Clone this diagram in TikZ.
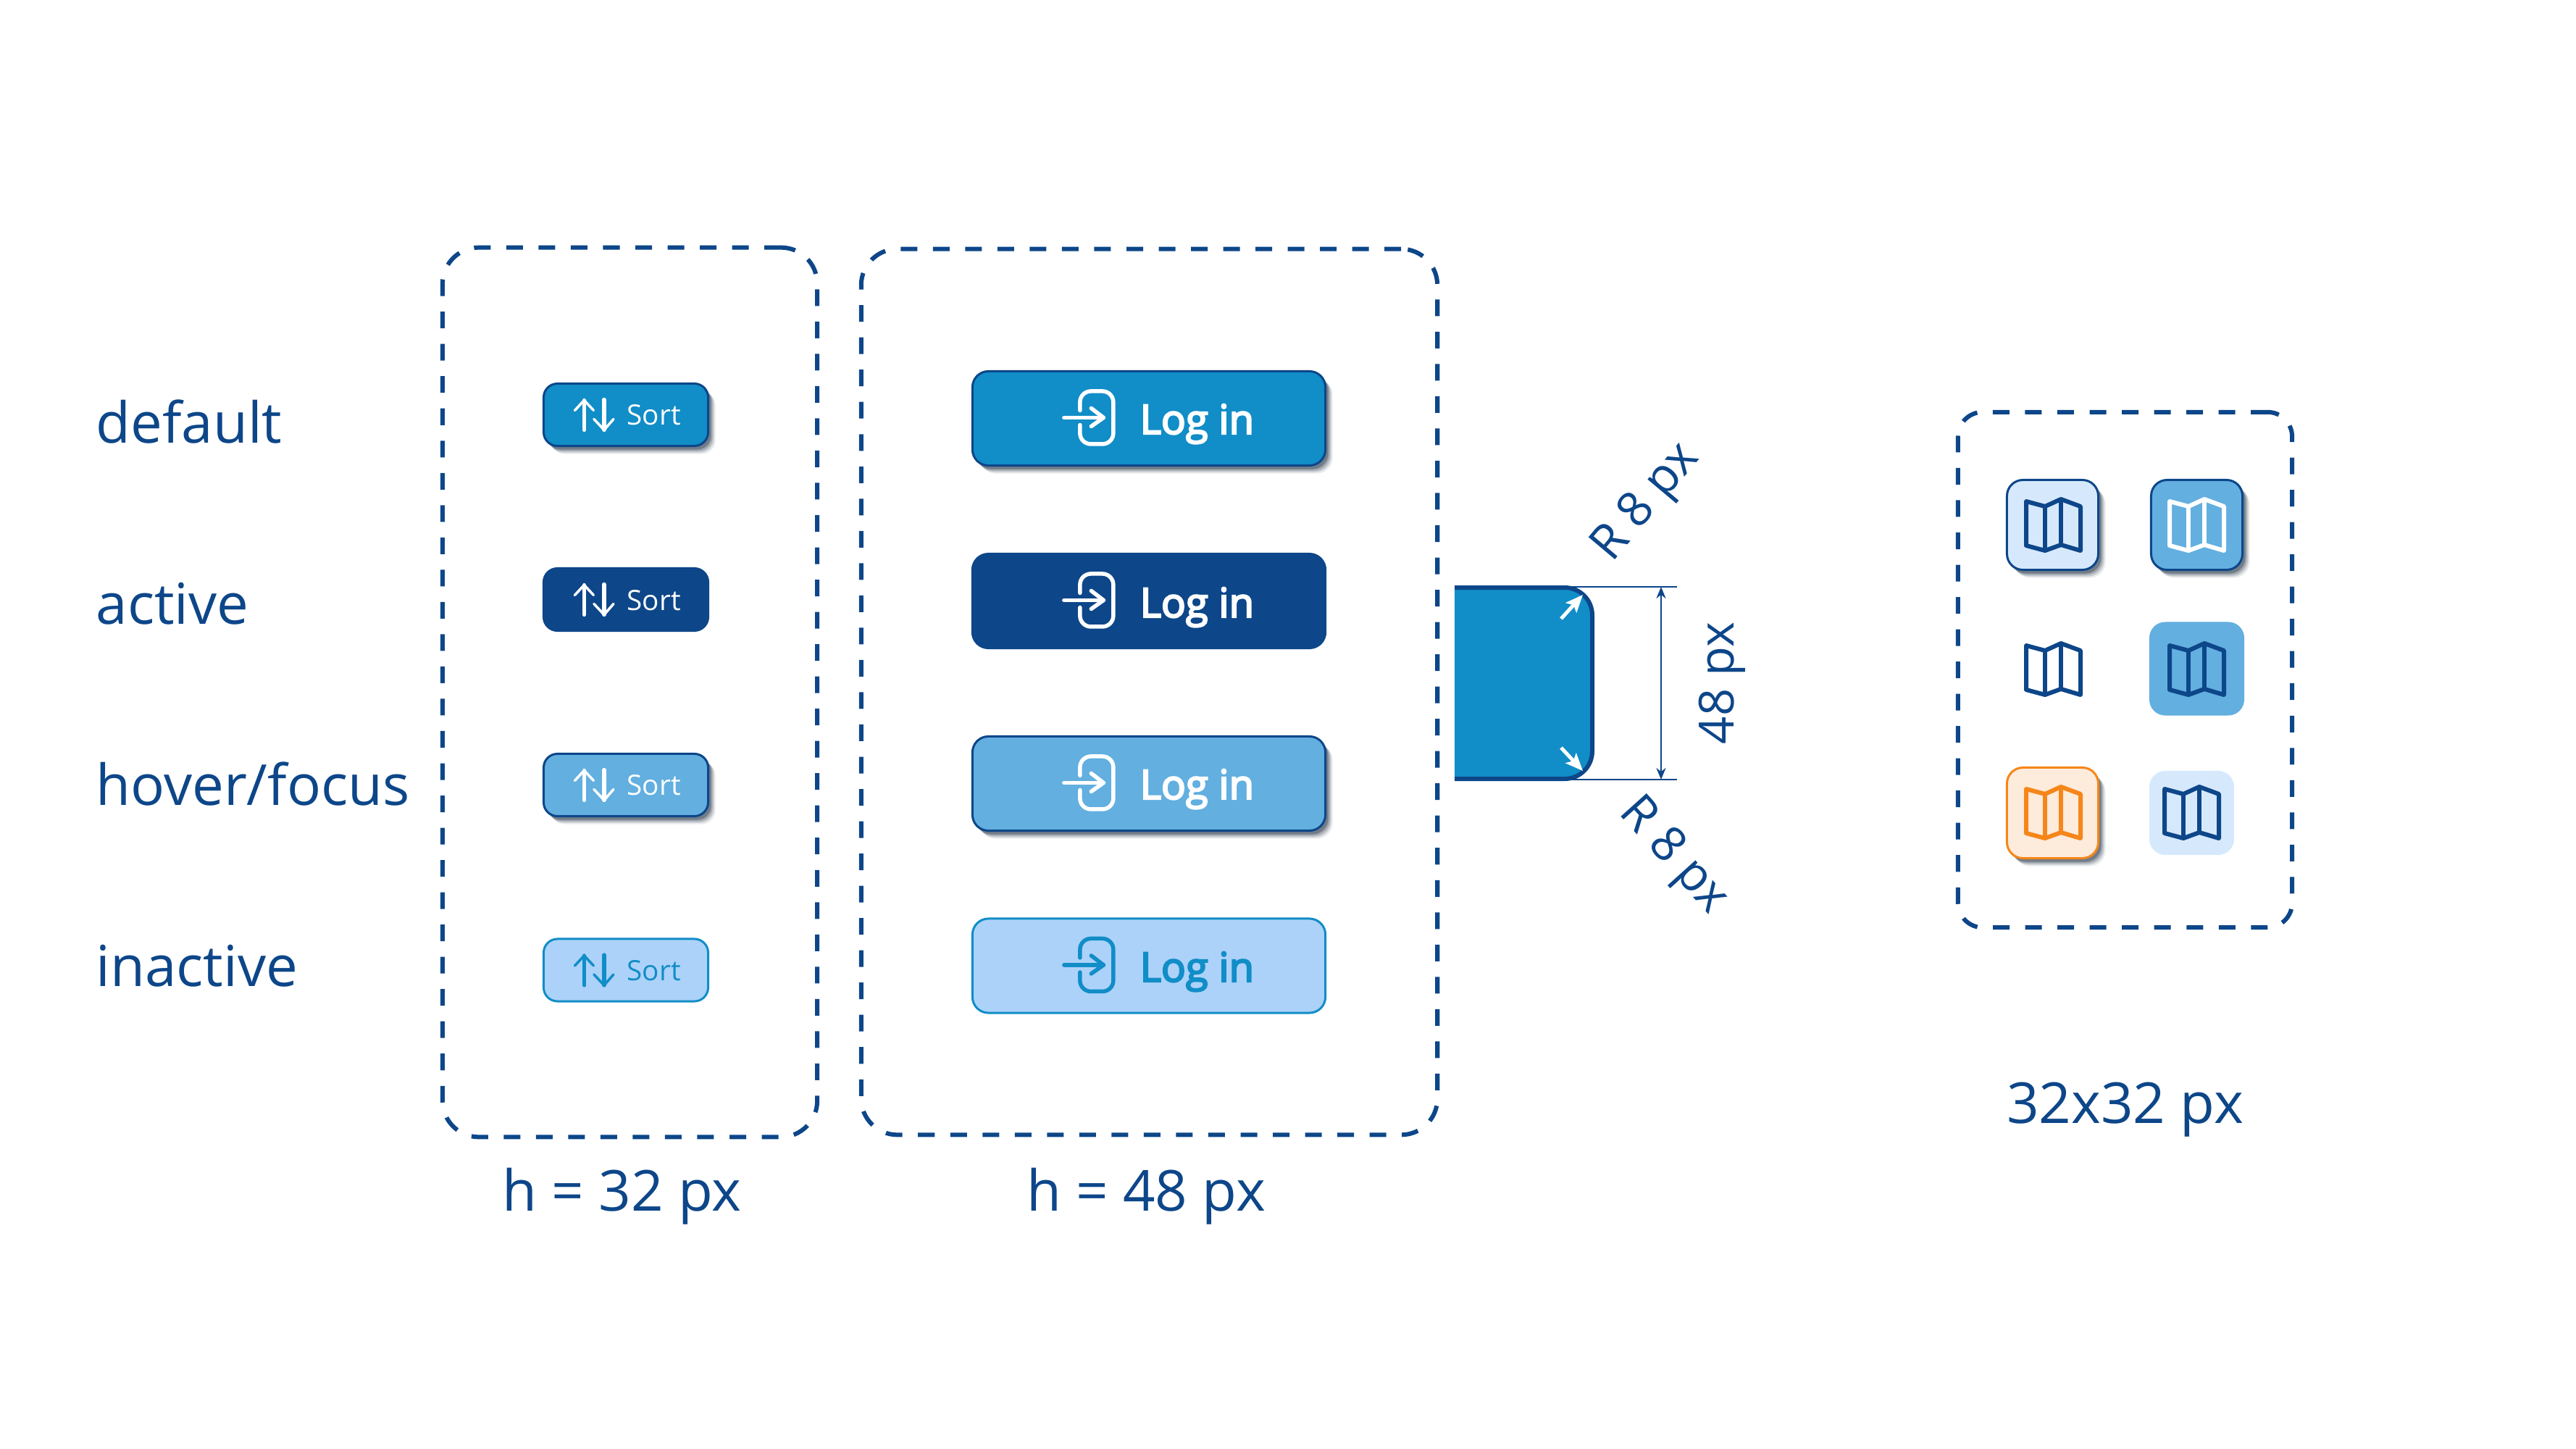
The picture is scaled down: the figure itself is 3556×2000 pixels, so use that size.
\documentclass[tikz,border=0pt]{standalone}
\usepackage{fontspec}
\setmainfont{Open Sans}
\newfontfamily\semifont[FakeBold=4]{Open Sans}
\usepackage{tikz}
\usetikzlibrary{arrows.meta}
\usetikzlibrary{shadows}

\definecolor{darkblue}{HTML}{0D4689}
\definecolor{mainblue}{HTML}{118DC7}
\definecolor{midblue}{HTML}{62AFE0}
\definecolor{lightblue}{HTML}{ADD2F9}
\definecolor{paleblue}{HTML}{D6E9FC}
\definecolor{mainorange}{HTML}{F68619}
\definecolor{paleorange}{HTML}{FDEBDC}
\definecolor{shadowgrey}{HTML}{2A3A4C}

\begin{document}
\begin{tikzpicture}[
    x=0.01cm,y=-0.01cm,
    soft shadow/.style={
      general shadow={shadow xshift=.10cm,shadow yshift=-.11cm,fill=shadowgrey,opacity=.10},
      general shadow={shadow xshift=.08cm,shadow yshift=-.09cm,fill=shadowgrey,opacity=.18},
      general shadow={shadow xshift=.06cm,shadow yshift=-.07cm,fill=shadowgrey,opacity=.25},
      general shadow={shadow xshift=.04cm,shadow yshift=-.05cm,fill=shadowgrey,opacity=.40},
    },
    dash box/.style={draw=darkblue,line width=.06cm,dash pattern=on .23cm off .215cm,inner sep=0pt},
    label text/.style={anchor=base west,inner sep=0pt,text=darkblue,font=\fontsize{22.2}{26}\selectfont},
    caption text/.style={anchor=base,inner sep=0pt,text=darkblue,font=\fontsize{22.2}{26}\selectfont},
    dim text/.style={anchor=base,inner sep=0pt,text=darkblue,font=\fontsize{19}{22}\selectfont},
    sort node/.style={rectangle,rounded corners=.19cm,minimum width=2.27cm,minimum height=.86cm,inner sep=0pt,line width=.03cm},
    login node/.style={rectangle,rounded corners=.22cm,minimum width=4.87cm,minimum height=1.30cm,inner sep=0pt,line width=.03cm},
    tile node/.style={rectangle,rounded corners=.22cm,inner sep=0pt,line width=.03cm},
    sort text/.style={anchor=base west,inner sep=0pt,font=\fontsize{11}{13}\selectfont},
    login text/.style={anchor=base west,inner sep=0pt,font=\semifont\fontsize{16}{18}\selectfont},
    sorticon/.pic={
      \draw[pic actions,line width=.052cm,line cap=round] (57.5,65.5) -- (57.5,24.5);
      \draw[pic actions,line width=.035cm,line cap=round,line join=round] (44.5,38.5) -- (57.5,24.5) -- (70.5,38.5);
      \draw[pic actions,line width=.052cm,line cap=round] (85,23.5) -- (85,65.5);
      \draw[pic actions,line width=.035cm,line cap=round,line join=round] (71,50.5) -- (85,65.5) -- (98,50.5);
    },
    loginicon/.pic={
      \draw[pic actions,line width=.055cm,line cap=round,rounded corners=.15cm] (150,55.5) -- (150,29) -- (196,29) -- (196,102) -- (150,102) -- (150,75.5);
      \draw[pic actions,line width=.055cm,line cap=round] (128,65.5) -- (182.5,65.5);
      \draw[pic actions,line width=.055cm,line cap=round,line join=round] (165.5,52.5) -- (182.5,65.5) -- (165.5,77.5);
    },
    mapicon/.pic={
      \draw[pic actions,line width=.06cm,line join=round] (0,0) -- (26,7) -- (48,-3) -- (75,7) -- (75,68) -- (48,60) -- (26,68) -- (0,61) -- cycle;
      \draw[pic actions,line width=.06cm] (26,7) -- (26,68);
      \draw[pic actions,line width=.06cm] (48,-3) -- (48,60);
    },
    ]
  \useasboundingbox (0,0) rectangle (3556,2000);

  % state names
  \node[label text] (default) at (132,611) {default};
  \node[label text] (active) at (132,861) {active};
  \node[label text] (hover) at (132,1111) {hover/focus};
  \node[label text] (inactive) at (132,1361) {inactive};

  % dashed groups
  \node[dash box,rounded corners=.5cm,minimum width=5.17cm,minimum height=12.27cm] (box1) at (869.5,955.5) {};
  \node[dash box,rounded corners=.5cm,minimum width=7.95cm,minimum height=12.22cm] (box2) at (1586.5,955) {};
  \node[dash box,rounded corners=.34cm,minimum width=4.61cm,minimum height=7.11cm] (box3) at (2933.5,924.5) {};

  \node[caption text] (cap1) at (858.5,1671) {h = 32 px};
  \node[caption text] (cap2) at (1582,1671) {h = 48 px};
  \node[caption text] (cap3) at (2933.5,1550) {32x32 px};

  % small buttons
  \node[sort node,soft shadow,draw=darkblue,fill=mainblue] (sort1) at (864,572.5) {};
  \node[sort node,draw=darkblue,fill=darkblue] (sort2) at (864,827.5) {};
  \node[sort node,soft shadow,draw=darkblue,fill=midblue] (sort3) at (864,1083.5) {};
  \node[sort node,draw=mainblue,fill=lightblue] (sort4) at (864,1339) {};

  \pic[draw=white] at (sort1.north west) {sorticon};
  \pic[draw=white] at (sort2.north west) {sorticon};
  \pic[draw=white] at (sort3.north west) {sorticon};
  \pic[draw=mainblue] at (sort4.north west) {sorticon};

  \node[sort text,text=white] (sorttext1) at (865,586) {Sort};
  \node[sort text,text=white] (sorttext2) at (865,842) {Sort};
  \node[sort text,text=white] (sorttext3) at (865,1097) {Sort};
  \node[sort text,text=mainblue] (sorttext4) at (865,1353) {Sort};

  % large buttons
  \node[login node,soft shadow,draw=darkblue,fill=mainblue] (login1) at (1586,577.5) {};
  \node[login node,draw=darkblue,fill=darkblue] (login2) at (1586,829.5) {};
  \node[login node,soft shadow,draw=darkblue,fill=midblue] (login3) at (1586,1081.5) {};
  \node[login node,draw=mainblue,fill=lightblue] (login4) at (1586,1333) {};

  \pic[draw=white] at (login1.north west) {loginicon};
  \pic[draw=white] at (login2.north west) {loginicon};
  \pic[draw=white] at (login3.north west) {loginicon};
  \pic[draw=mainblue] at (login4.north west) {loginicon};

  \node[login text,text=white] (logintext1) at (1573,599) {Log in};
  \node[login text,text=white] (logintext2) at (1573,852) {Log in};
  \node[login text,text=white] (logintext3) at (1573,1103) {Log in};
  \node[login text,text=mainblue] (logintext4) at (1573,1355) {Log in};

  % corner detail
  \draw[darkblue,fill=mainblue,line width=.06cm,rounded corners=.38cm] (2008,811) -- (2198,811) -- (2198,1075) -- (2008,1075);

  \coordinate (topstart) at (2103,810);
  \coordinate (topend) at (2315,810);
  \coordinate (botstart) at (2103,1076);
  \coordinate (botend) at (2315,1076);
  \coordinate (dimtop) at (2293,810);
  \coordinate (dimbot) at (2293,1076);
  \draw[darkblue,line width=.027cm] (topstart) -- (topend);
  \draw[darkblue,line width=.027cm] (botstart) -- (botend);
  \draw[darkblue,line width=.027cm,{Stealth[length=.16cm,width=.13cm]}-{Stealth[length=.16cm,width=.13cm]}] (dimtop) -- (dimbot);

  \coordinate (upfrom) at (2155,854);
  \coordinate (upto) at (2185,821);
  \coordinate (downfrom) at (2155,1032);
  \coordinate (downto) at (2185,1064);
  \draw[white,line width=.05cm,-{Stealth[length=.24cm,width=.2cm,inset=.05cm]}] (upfrom) -- (upto);
  \draw[white,line width=.05cm,-{Stealth[length=.24cm,width=.2cm,inset=.05cm]}] (downfrom) -- (downto);

  \node[dim text,rotate=90] (dimheight) at (2393,943) {48 px};
  \node[dim text,rotate=50] (dimupper) at (2286,705) {R 8 px};
  \node[dim text,rotate=-48] (dimlower) at (2297,1193) {R 8 px};

  % map tiles
  \node[tile node,soft shadow,draw=darkblue,fill=paleblue,minimum width=1.26cm,minimum height=1.24cm] (tile1) at (2833.5,724.5) {};
  \node[tile node,soft shadow,draw=darkblue,fill=midblue,minimum width=1.26cm,minimum height=1.24cm] (tile2) at (3032.5,724.5) {};
  \node[tile node,fill=midblue,minimum width=1.31cm,minimum height=1.29cm] (tile4) at (3032.5,923) {};
  \node[tile node,soft shadow,draw=mainorange,fill=paleorange,minimum width=1.26cm,minimum height=1.25cm] (tile5) at (2833.5,1122) {};
  \node[tile node,fill=paleblue,minimum width=1.17cm,minimum height=1.16cm] (tile6) at (3025.5,1122) {};

  \pic[draw=darkblue] at (2797,692) {mapicon};
  \pic[draw=white] at (2995,692) {mapicon};
  \pic[draw=darkblue] at (2797,891) {mapicon};
  \pic[draw=darkblue] at (2995,891) {mapicon};
  \pic[draw=mainorange] at (2797,1089) {mapicon};
  \pic[draw=darkblue] at (2988,1089) {mapicon};
\end{tikzpicture}
\end{document}
